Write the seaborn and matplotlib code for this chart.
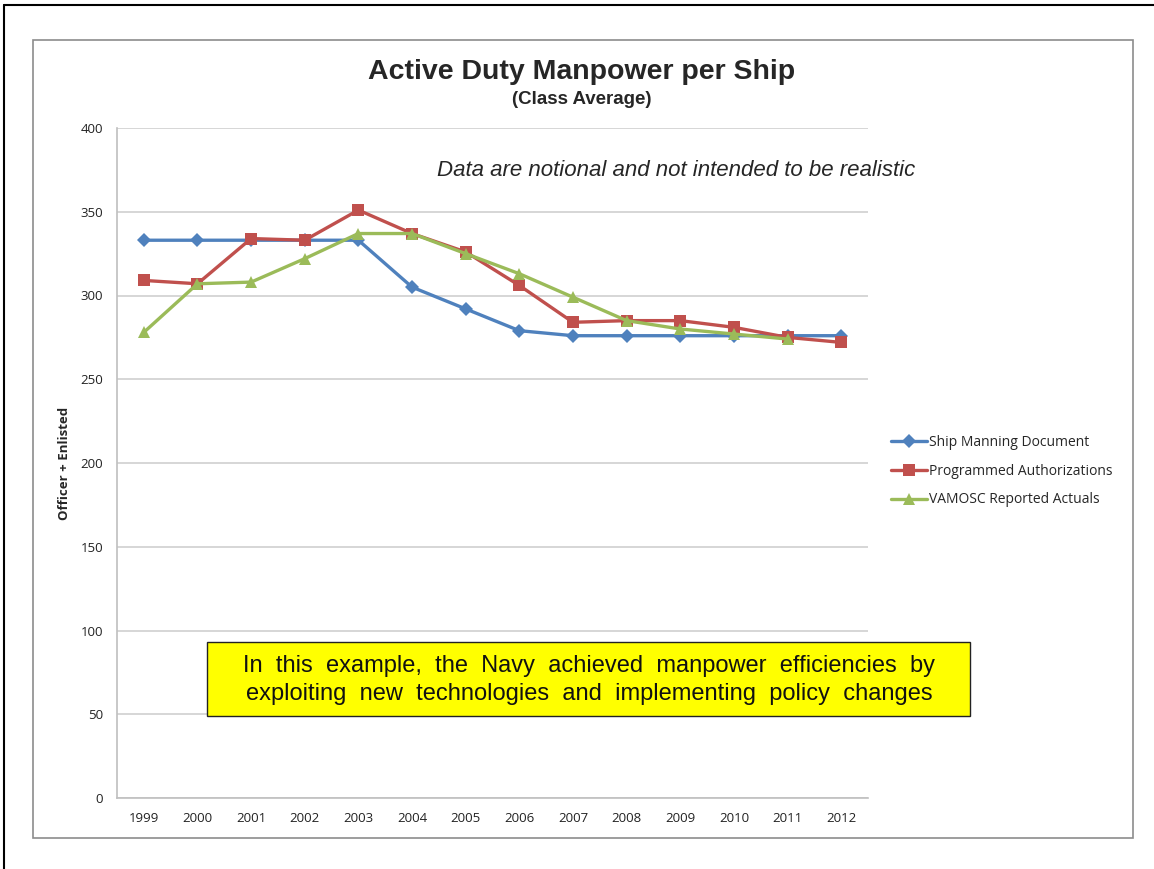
import numpy as np
import pandas as pd
import matplotlib
matplotlib.use("Agg")
import matplotlib.pyplot as plt
import seaborn as sns
from matplotlib.patches import Rectangle
from matplotlib.lines import Line2D

years = list(range(1999, 2013))
ship_manning = [333, 333, 333, 333, 333, 305, 292, 279, 276, 276, 276, 276, 276, 276]
programmed = [309, 307, 334, 333, 351, 337, 326, 306, 284, 285, 285, 281, 275, 272]
vamosc = [278, 307, 308, 322, 337, 337, 325, 313, 299, 285, 280, 277, 274, np.nan]

series_names = ["Ship Manning Document", "Programmed Authorizations", "VAMOSC Reported Actuals"]
y_ticks = [0, 50, 100, 150, 200, 250, 300, 350, 400]

df = pd.DataFrame({"year": years,
                   series_names[0]: ship_manning,
                   series_names[1]: programmed,
                   series_names[2]: vamosc})
long_df = df.melt(id_vars="year", var_name="series", value_name="value")

sns.set_style("white")
plt.rcParams["font.family"] = ["Liberation Sans", "DejaVu Sans"]

colors = {series_names[0]: "#4F81BD", series_names[1]: "#C0504D", series_names[2]: "#9BBB59"}
markers = {series_names[0]: "D", series_names[1]: "s", series_names[2]: "^"}
msizes = {series_names[0]: 7, series_names[1]: 9, series_names[2]: 9}

fig = plt.figure(figsize=(11.54, 8.69), dpi=100)
fig.patch.set_facecolor("white")

# outer black frame and inner grey chart frame
fig.add_artist(Line2D([4 / 1154, 4 / 1154], [0, 1 - 5 / 869], color="black", lw=1.5))
fig.add_artist(Line2D([4 / 1154, 1], [1 - 5 / 869, 1 - 5 / 869], color="black", lw=1.5))
fig.add_artist(Rectangle((33 / 1154, 1 - 838 / 869), 1100 / 1154, 798 / 869,
                         fill=False, edgecolor="#8c8c8c", lw=1.2))

ax = fig.add_axes([117 / 1154, 1 - 798 / 869, 751 / 1154, 670 / 869])

for name in series_names:
    sub = long_df[long_df["series"] == name].dropna()
    sns.lineplot(data=sub, x="year", y="value", ax=ax, color=colors[name],
                 marker=markers[name], markersize=msizes[name], markeredgewidth=0,
                 linewidth=2.4, label=name)

ax.set_xlim(1998.5, 2012.5)
ax.set_ylim(0, 400)
ax.set_xticks(years)
ax.set_xticklabels([str(y) for y in years], family="Open Sans", fontsize=9.5, color="#222222")
ax.set_yticks(y_ticks)
ax.set_yticklabels([str(v) for v in y_ticks], family="Open Sans", fontsize=9.5, color="#222222")
ax.tick_params(axis="both", length=0, pad=10)
ax.yaxis.grid(True, color="#d0d0d0", lw=1.2)
ax.set_axisbelow(True)
for side in ["top", "right"]:
    ax.spines[side].set_visible(False)
for side in ["left", "bottom"]:
    ax.spines[side].set_color("#bfbfbf")
    ax.spines[side].set_linewidth(1.2)
ax.set_xlabel("")
ax.set_ylabel("Officer + Enlisted", family="Open Sans", fontsize=9.5, fontweight="bold",
              labelpad=7)

leg = ax.legend(loc="center left", bbox_to_anchor=(1.014, 0.488), frameon=False,
                prop={"family": "Open Sans", "size": 10}, handlelength=2.6,
                handletextpad=0.15, labelspacing=1.0)

fig.text(582 / 1154, 1 - 72 / 869, "Active Duty Manpower per Ship", ha="center", va="center",
         fontsize=20.5, fontweight="bold")
fig.text(582 / 1154, 1 - 100 / 869, "(Class Average)", ha="center", va="center",
         fontsize=13.5, fontweight="bold")
fig.text(676 / 1154, 1 - 170 / 869, "Data are notional and not intended to be realistic",
         ha="center", va="center", fontsize=16, style="italic")

fig.add_artist(Rectangle((207 / 1154, 1 - 716 / 869), 763 / 1154, 74 / 869,
                         facecolor="#FFFF00", edgecolor="#222222", lw=1))
fig.text(589 / 1154, 1 - 680 / 869,
         "In  this  example,  the  Navy  achieved  manpower  efficiencies  by\n"
         "exploiting  new  technologies  and  implementing  policy  changes",
         ha="center", va="center", fontsize=17, linespacing=1.3, color="#111111")

fig.savefig("out.png", dpi=100, facecolor="white")
